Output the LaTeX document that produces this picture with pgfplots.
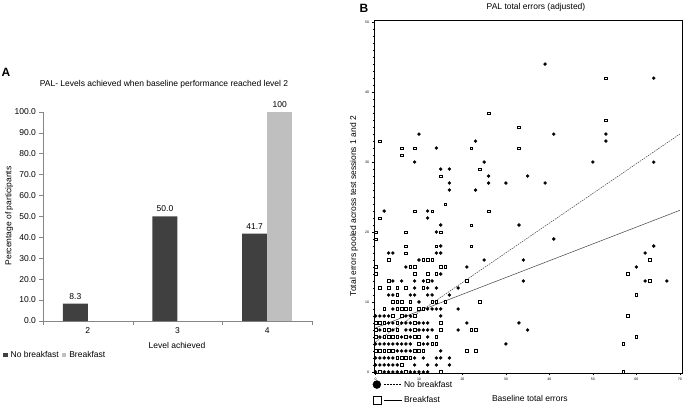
\documentclass[border=0pt]{standalone}
\usepackage{fontspec}
\setmainfont{Liberation Sans}
\usepackage{pgfplots}
\pgfplotsset{compat=1.18}
\definecolor{darkbar}{HTML}{404040}
\definecolor{lightbar}{HTML}{BFBFBF}
\definecolor{axisgray}{HTML}{868686}
\begin{document}
\fontsize{8.5}{10}\selectfont
\begin{tikzpicture}[x=1pt,y=1pt]
% ---------------- Panel A ----------------
\begin{axis}[
  at={(43pt,92pt)}, anchor=south west,
  scale only axis, width=269pt, height=209.3pt,
  font=\fontsize{8.5}{10}\selectfont,
  xmin=-0.5, xmax=2.5, ymin=0, ymax=100,
  axis x line=bottom, axis y line=left,
  axis line style={axisgray,-},
  ybar=0pt, bar width=25pt,
  xtick={0,1,2}, xticklabels={2,3,4},
  major x tick style={draw=none},
  minor xtick={-0.5,0.5,1.5,2.5},
  minor x tick style={axisgray},
  ytick={0,10,...,100},
  major y tick style={axisgray},
  tick align=outside,
  major tick length=4pt, minor tick length=4pt,
  yticklabel style={/pgf/number format/.cd,fixed,fixed zerofill,precision=1},
  /pgf/number format/assume math mode=true,
  title={PAL- Levels achieved when baseline performance reached level 2},
  every axis title/.style={at={(axis description cs:0.45,1.132)}, anchor=center},
  xlabel={Level achieved},
  xlabel style={at={(axis description cs:0.498,-0.115)}, anchor=center},
  ylabel={Percentage of participants},
  ylabel style={at={(axis description cs:-0.126,0.502)}, anchor=center},
  legend columns=2,
  legend style={at={(axis description cs:-0.149,-0.135)}, anchor=north west, draw=none, fill=none,
    font=\fontsize{8.5}{10}\selectfont, column sep=1pt, inner sep=0pt},
  legend image code/.code={\fill[#1] (0pt,-2pt) rectangle (4.5pt,2.5pt);},
  nodes near coords style={font=\fontsize{8.5}{10}\selectfont, black, yshift=1.5pt},
]
\addplot[fill=darkbar, draw=none, nodes near coords, point meta=explicit symbolic]
  coordinates {(0,8.3) [8.3] (1,50) [50.0] (2,41.7) [41.7]};
\addplot[fill=lightbar, draw=none, nodes near coords, point meta=explicit symbolic]
  coordinates {(2,100) [100]};
\legend{No breakfast, Breakfast}
\end{axis}
\node[font=\bfseries\fontsize{12}{12}\selectfont] at (6pt,341pt) {A};
% ---------------- Panel B ----------------
\begin{axis}[
  at={(374pt,40pt)}, anchor=south west,
  scale only axis, width=308pt, height=353pt,
  font=\fontsize{8.5}{10}\selectfont,
  xmin=-0.35, xmax=70.5, ymin=-0.15, ymax=50.3,
  axis line style={black, line width=0.5pt},
  xtick={0,10,...,70}, ytick={0,10,...,50},
  minor x tick num=9, minor y tick num=9,
  tick pos=left, tick align=outside,
  major tick length=2pt, minor tick length=1.2pt,
  tick style={black, line width=0.3pt},
  tick label style={font=\fontsize{3.5}{4}\selectfont},
  /pgf/number format/assume math mode=true,
  title={PAL total errors (adjusted)},
  every axis title/.style={at={(axis description cs:0.526,1.037)}, anchor=center},
  xlabel={Baseline total errors},
  xlabel style={at={(axis description cs:0.506,-0.072)}, anchor=center},
  ylabel={Total errors pooled across test sessions 1 and 2},
  ylabel style={at={(axis description cs:-0.065,0.473)}, anchor=center},
  legend style={at={(axis description cs:-0.005,-0.016)}, anchor=north west, draw=none, fill=none,
    font=\fontsize{8.5}{10}\selectfont, row sep=4pt, inner sep=0pt},
  legend cell align=left,
]
% No breakfast (filled circles)
\addplot[forget plot, only marks, mark=*, mark size=1.5pt, black] coordinates {
(10,34) (23,33) (39,44) (41,34) (53,34) (53,33) (64,42) (14,32) (9,30) (25,30) (50,30) (64,30)
(15,29) (17,29) (26,28) (35,28) (17,27) (26,27) (30,27) (39,27) (17,26) (23,26) (2,23) (12,23)
(12,22) (15,21) (33,21) (14,20) (41,19) (15,18) (64,18) (62,17) (25,16) (34,16) (21,15) (60,15)
(34,13) (62,13) (67,13) (19,12) (19,9) (21,7) (33,7) (19,6) (35,6) (30,4) (17,2) (17,1)
(3,17) (4,17) (14,17) (15,17)
(10,16) (7,15) (15,14)
(4,13) (6,13) (9,13) (11,13) (13,13)
(9,12) (12,12) (14,12)
(3,11) (4,11) (8,11) (9,11) (12,11) (13,11) (17,11)
(10,10)
(4,9) (12,9) (13,9) (14,9) (15,9)
(0,8) (1,8) (2,8) (3,8) (7,8) (8,8) (15,8)
(3,7) (4,7) (6,7) (7,7) (8,7) (10,7) (11,7) (12,7)
(1,6) (4,6) (7,6) (8,6) (10,6) (11,6) (12,6) (13,6)
(1,5) (6,5) (8,5) (12,5)
(0,4) (1,4) (2,4) (3,4) (4,4) (5,4) (6,4) (7,4) (8,4) (11,4) (12,4)
(5,3) (6,3) (7,3) (8,3) (15,3)
(0,2) (1,2) (2,2) (3,2) (4,2) (9,2) (11,2) (14,2) (15,2)
(0,1) (1,1) (2,1) (3,1) (4,1) (5,1) (9,1) (12,1) (14,1)
(0,0) (2,0) (3,0) (4,0) (5,0) (6,0) (8,0) (9,0) (10,0) (11,0) (12,0)
};
% Breakfast (open squares)
\addplot[forget plot, only marks, mark=square*, mark size=1.3pt, black,
  mark options={fill=white, line width=0.4pt}] coordinates {
(26,37) (33,35) (53,42) (53,36) (1,33) (6,32) (9,32) (22,32) (33,32) (6,31) (24,29) (15,28)
(16,24) (9,23) (13,23) (26,23) (1,22) (22,21) (0,20) (7,20) (15,20) (0,19) (7,18) (14,18) (22,18)
(63,16) (58,14) (63,13) (60,11) (58,8) (60,5) (57,4) (57,0) (21,13) (24,10) (22,6) (23,6) (21,3) (23,3)
(7,17)
(3,16) (11,16) (12,16) (13,16)
(0,15) (8,15) (9,15) (15,15) (16,15)
(0,14) (9,14) (12,14) (14,14)
(3,13) (12,13)
(1,12) (3,12) (5,12) (7,12) (11,12)
(5,11)
(4,10) (5,10) (6,10) (8,10) (13,10) (14,10) (16,10)
(2,9) (5,9) (6,9) (7,9) (8,9) (10,9) (11,9)
(4,8) (6,8) (9,8)
(0,7) (1,7) (2,7) (5,7) (9,7) (15,7)
(0,6) (2,6) (3,6) (5,6) (9,6) (15,6)
(0,5) (2,5) (3,5) (4,5) (5,5) (7,5) (9,5) (10,5) (14,5)
(10,4) (13,4) (14,4)
(0,3) (1,3) (2,3) (3,3) (4,3) (9,3) (10,3) (11,3)
(5,2) (6,2) (7,2) (8,2)
(6,1)
(1,0) (7,0) (15,0)
};
% regression lines
\addplot[forget plot, black!75, dash pattern=on 1.5pt off 1pt, line width=0.5pt]
  coordinates {(0,4.3) (70,34)};
\addplot[forget plot, black!75, line width=0.5pt]
  coordinates {(0,6.3) (70,23.1)};
\addlegendimage{legend image code/.code={
  \draw[black,fill=black] (4pt,0pt) circle (4pt);
  \draw[black,dash pattern=on 2pt off 1pt] (11pt,0pt) -- (29pt,0pt);}}
\addlegendentry{No breakfast}
\addlegendimage{legend image code/.code={
  \draw[black,fill=white] (0pt,-4pt) rectangle (8pt,4pt);
  \draw[black] (11pt,0pt) -- (29pt,0pt);}}
\addlegendentry{Breakfast}
\end{axis}
\node[font=\bfseries\fontsize{12}{12}\selectfont] at (364pt,404.7pt) {B};
\pgfresetboundingbox
\path[use as bounding box] (0pt,0pt) rectangle (685pt,413pt);
\end{tikzpicture}
\end{document}
